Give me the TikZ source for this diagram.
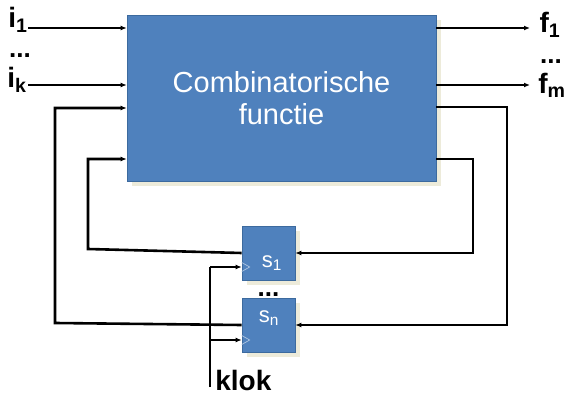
\documentclass[tikz,border=0pt]{standalone}
\usepackage{fontspec}
\setmainfont{Liberation Sans}
\usetikzlibrary{arrows.meta,positioning,shadows}
\definecolor{blok}{HTML}{4F81BD}
\definecolor{rand}{HTML}{3C6A9E}
\definecolor{schaduw}{HTML}{EDEBDA}

\begin{document}
\begin{tikzpicture}[x=1pt,y=-1pt,>={Latex[length=6pt,width=5pt]},line width=2.6pt,
  blokstijl/.style={fill=blok,draw=rand,line width=0.6pt,inner sep=0pt,text=white,
    drop shadow={shadow xshift=5pt,shadow yshift=-5pt,fill=schaduw,opacity=1}},
  lbl/.style={inner sep=0pt,font=\fontsize{28}{30}\selectfont\bfseries},
  puntjes/.style={inner sep=0pt,text height=4pt,text depth=0pt,font=\fontsize{26}{26}\selectfont\bfseries},
  fftekst/.style={inner sep=0pt,text=white,font=\fontsize{22}{24}\selectfont}]
\useasboundingbox (0,0) rectangle (566,396);
% combinatorisch blok
\node[blokstijl,minimum width=309pt,minimum height=166pt,align=center,
  font=\fontsize{29}{32}\selectfont] (comb) at (281.5,98) {Combinatorische\\functie};
% geheugenelementen
\node[blokstijl,minimum width=53pt,minimum height=54pt] (s1) at (268.5,253) {};
\node[blokstijl,minimum width=53pt,minimum height=54pt] (sn) at (268.5,325) {};
\node[fftekst] (s1t) at (272,263) {s\textsubscript{1}};
\node[fftekst] (snt) at (269,318) {s\textsubscript{n}};
\node[puntjes] (sdots) at (268.5,294) {...};
% ingangen en uitgangen
\node[lbl] (i1) at (18,20) {i\textsubscript{1}};
\node[puntjes] (idots) at (20,56) {...};
\node[lbl] (ik) at (17,80) {i\textsubscript{k}};
\node[lbl] (f1) at (550,25) {f\textsubscript{1}};
\node[puntjes] (fdots) at (551,62) {...};
\node[lbl] (fm) at (552,85) {f\textsubscript{m}};
\node[inner sep=0pt,font=\fontsize{28}{30}\selectfont\bfseries,anchor=west] (klok) at (214,380) {klok};
\coordinate (in1) at (28,28);
\coordinate (ink) at (28,85);
\coordinate (uit1) at (530,28);
\coordinate (uitm) at (530,85);
\draw[->] (in1) -- (in1 -| comb.west);
\draw[->] (ink) -- (ink -| comb.west);
\draw[->] (comb.east |- uit1) -- (uit1);
\draw[->] (comb.east |- uitm) -- (uitm);
% terugkoppeling buiten
\coordinate (rb) at (507,107);
\coordinate (lb) at (55,323);
\draw[->] (comb.east |- rb) -- (rb) -- (rb |- sn.east) -- (sn.east);
\draw[->] (sn.west) -- (lb) -- (lb |- 0,108) -- (comb.west |- 0,108);
% terugkoppeling binnen
\coordinate (ri) at (473,159);
\coordinate (li) at (88,249);
\draw[->] (comb.east |- ri) -- (ri) -- (ri |- s1.east) -- (s1.east);
\draw[->] (s1.west) -- (li) -- (li |- ri) -- (comb.west |- ri);
% klok
\coordinate (kbot) at (210,387);
\coordinate (k1) at (210,267);
\coordinate (kn) at (210,340);
\draw (kbot) -- (k1);
\draw[->] (k1) -- (k1 -| s1.west);
\draw[->] (kn) -- (kn -| sn.west);
\foreach \k/\s in {k1/s1,kn/sn}
  \draw[line width=0.6pt,draw=blok!40!white] (\k -| \s.west) ++(0,-4.5) -- ++(8,4.5) -- ++(-8,4.5);
\end{tikzpicture}
\end{document}
